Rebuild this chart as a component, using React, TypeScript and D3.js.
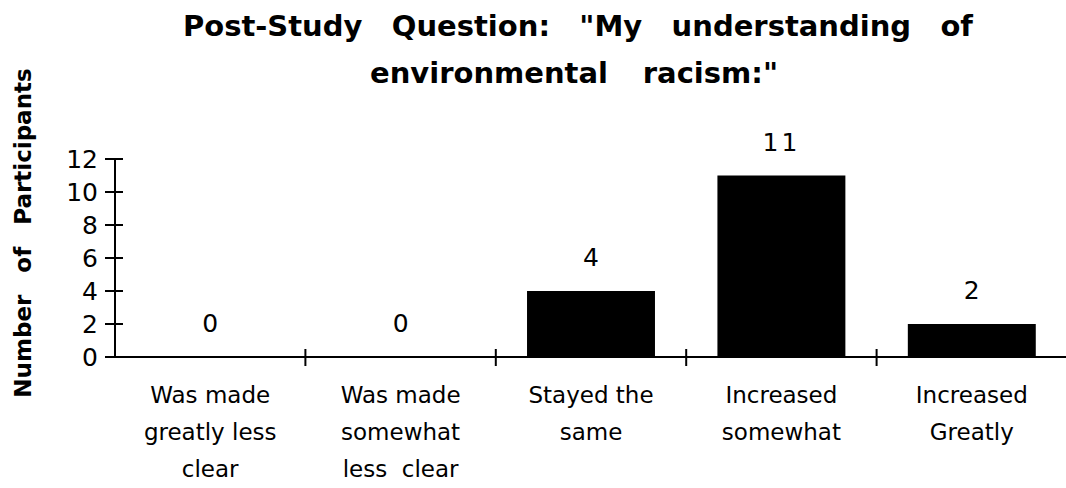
import React, { useEffect, useRef } from 'react';
import * as d3 from 'd3';

const categories = ['c1', 'c2', 'c3', 'c4', 'c5'];
const categoryLines = [
    ['Was made', 'greatly less', 'clear'],
    ['Was made', 'somewhat', 'less  clear'],
    ['Stayed the', 'same'],
    ['Increased', 'somewhat'],
    ['Increased', 'Greatly'],
];
const counts = [0, 0, 4, 11, 2];
const yTicks = [0, 2, 4, 6, 8, 10, 12];
const titleLines = ['Post-Study Question: "My understanding of', 'environmental racism:"'];
// horizontal extent of each (justified) title line
const titleSpans = [[183, 973], [370, 778]];
const yLabel = 'Number of Participants';

const W = 1066;
const H = 488;
const font = '"DejaVu Sans", Verdana, sans-serif';

export default function App() {
    const svgRef = useRef<SVGSVGElement | null>(null);

    useEffect(() => {
        if (!svgRef.current) return;
        const svg = d3.select(svgRef.current);
        svg.selectAll('*').remove();

        const left = 115, right = 1067, top = 159, bottom = 357;
        const pad = 0.328;

        const x = d3.scaleBand<string>()
            .domain(categories)
            .range([left, right])
            .paddingInner(pad)
            .paddingOuter(pad / 2);
        const y = d3.scaleLinear().domain([0, 12]).range([bottom, top]);
        const step = x.step();

        // title, spread out to fill each line like justified text
        svg.selectAll('.title')
            .data(titleLines)
            .join('text')
            .attr('class', 'title')
            .attr('x', (d, i) => titleSpans[i][0])
            .attr('y', (d, i) => 36 + i * 47)
            .style('font-family', font)
            .style('font-weight', 'bold')
            .style('font-size', '29px')
            .text(d => d)
            .each(function (d, i) {
                const el = this as SVGTextElement;
                const natural = el.getComputedTextLength();
                const gaps = d.split(' ').length - 1;
                const target = titleSpans[i][1] - titleSpans[i][0];
                d3.select(el).style('word-spacing', `${(target - natural) / gaps}px`);
            });

        // y label
        svg.append('text')
            .attr('transform', `translate(31, 233) rotate(-90)`)
            .attr('text-anchor', 'middle')
            .style('font-family', font)
            .style('font-weight', 'bold')
            .style('font-size', '23px')
            .style('word-spacing', '14px')
            .text(yLabel);

        // bars
        svg.selectAll('.bar')
            .data(counts)
            .join('rect')
            .attr('class', 'bar')
            .attr('x', (d, i) => x(categories[i])!)
            .attr('width', x.bandwidth())
            .attr('y', d => y(d))
            .attr('height', d => bottom - y(d))
            .attr('fill', '#000');

        // value labels
        svg.selectAll('.val')
            .data(counts)
            .join('text')
            .attr('class', 'val')
            .attr('x', (d, i) => x(categories[i])! + x.bandwidth() / 2)
            .attr('y', d => y(d) - 25)
            .attr('text-anchor', 'middle')
            .style('font-family', font)
            .style('font-size', '25px')
            .style('letter-spacing', d => (d >= 10 ? '3px' : '0px'))
            .text(d => d);

        // y axis
        const g = svg.append('g').attr('stroke', '#000').attr('stroke-width', 2);
        g.append('line').attr('x1', left).attr('x2', left).attr('y1', top).attr('y2', bottom + 1);
        g.selectAll('.yt')
            .data(yTicks)
            .join('line')
            .attr('x1', left - 10).attr('x2', left + 8)
            .attr('y1', d => y(d)).attr('y2', d => y(d));
        svg.selectAll('.ytl')
            .data(yTicks)
            .join('text')
            .attr('class', 'ytl')
            .attr('x', left - 17)
            .attr('y', d => y(d))
            .attr('dy', '0.36em')
            .attr('text-anchor', 'end')
            .style('font-family', font)
            .style('font-size', '25px')
            .text(d => d);

        // x axis
        g.append('line').attr('x1', left).attr('x2', W).attr('y1', bottom).attr('y2', bottom);
        g.selectAll('.xt')
            .data(categories.slice(1))
            .join('line')
            .attr('x1', d => x(d)! - step * pad / 2).attr('x2', d => x(d)! - step * pad / 2)
            .attr('y1', bottom - 8).attr('y2', bottom + 9);

        // category labels
        categoryLines.forEach((lines, i) => {
            svg.append('text')
                .attr('text-anchor', 'middle')
                .style('font-family', font)
                .style('font-size', '23px')
                .style('white-space', 'pre')
                .selectAll('tspan')
                .data(lines)
                .join('tspan')
                .attr('x', x(categories[i])! + x.bandwidth() / 2)
                .attr('y', (d, j) => 403 + j * 37)
                .text(d => d);
        });
    }, []);

    return (
        <svg ref={svgRef} width={W} height={H}
            style={{ position: 'absolute', left: 0, top: 0, background: '#fff' }} />
    );
}
